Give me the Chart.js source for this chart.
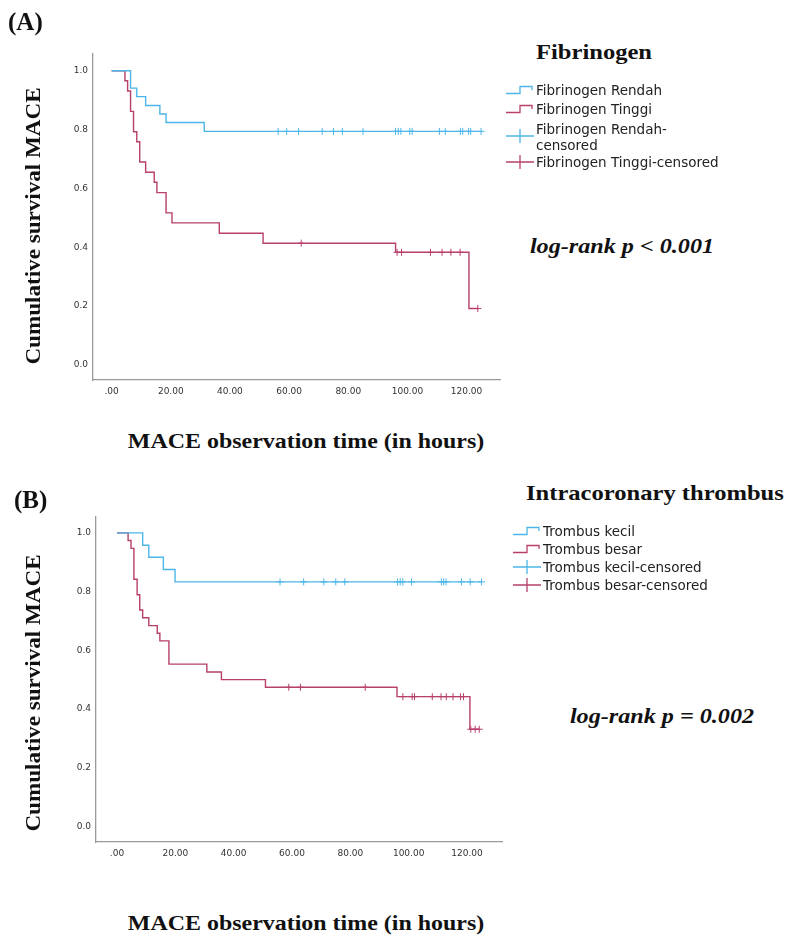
<!DOCTYPE html>
<html>
<head>
<meta charset="utf-8">
<script src="https://cdn.jsdelivr.net/npm/chart.js@4"></script>
<style>
  body { margin: 0; background: #fff; }
  #page { position: relative; width: 786px; height: 938px; overflow: hidden; background: #fff; }
  canvas { position: absolute; }
  .t { position: absolute; white-space: nowrap; color: #111; }
  .serif { font-family: "Liberation Serif", serif; font-weight: bold; }
  .ytitle { transform: translate(-50%, -50%) rotate(-90deg) scaleX(1.1); }
  .xtitle { transform: translate(-50%, -50%) scaleX(1.14); }
  .pval { transform: translate(-50%, -50%) scaleX(1.15); font-style: italic; }
  .head { transform-origin: 0 0; transform: scaleX(1.17); }
  .leg { position: absolute; font-family: "DejaVu Sans", sans-serif; font-size: 13.5px; color: #222; line-height: 16px; }
  .leg .row { position: absolute; left: 0; white-space: nowrap; }
  .leg svg { position: absolute; }
  .leg span { position: absolute; }
</style>
</head>
<body>
<div id="page">
  <canvas id="chartA" width="520" height="420" style="left:0;top:0;width:520px;height:420px"></canvas>
  <canvas id="chartB" width="520" height="420" style="left:0;top:470px;width:520px;height:420px"></canvas>

  <div class="t serif" style="left:8px;top:8px;font-size:25px">(A)</div>
  <div class="t serif" style="left:14px;top:486px;font-size:25px">(B)</div>

  <div class="t serif ytitle" style="left:33px;top:226px;font-size:21px">Cumulative survival MACE</div>
  <div class="t serif ytitle" style="left:33px;top:693px;font-size:21px">Cumulative survival MACE</div>
  <div class="t serif xtitle" style="left:306px;top:441px;font-size:21px">MACE observation time (in hours)</div>
  <div class="t serif xtitle" style="left:306px;top:923px;font-size:21px">MACE observation time (in hours)</div>

  <div class="t serif head" style="left:536px;top:40px;font-size:21px">Fibrinogen</div>
  <div class="t serif head" style="left:526px;top:481px;font-size:21px">Intracoronary thrombus</div>

  <div class="t serif pval" style="left:622px;top:246px;font-size:21px">log-rank p &lt; 0.001</div>
  <div class="t serif pval" style="left:662px;top:716px;font-size:21px">log-rank p = 0.002</div>

  <div id="legA" class="leg" style="left:506px;top:0"></div>
  <div id="legB" class="leg" style="left:513px;top:0"></div>
</div>
<script>
// Panel A: Fibrinogen
const aTickX = [0, 20, 40, 60, 80, 100, 120];
const aTickY = [0, 0.2, 0.4, 0.6, 0.8, 1.0];
const aLowTime = [6.4, 8.5, 11.5, 16.3, 18.4, 31.3];
const aLowSurv = [0.941, 0.912, 0.882, 0.853, 0.824, 0.794];
const aLowCens = [56.3, 59.2, 63.2, 71.2, 75, 78, 85, 96, 96.9, 97.8, 100.8, 101.6, 110.8, 112.8, 117.9, 118.7, 120.7, 121.4, 124.9];
const aHighTime = [4.5, 5.4, 6.4, 7.4, 8.5, 9.5, 11.5, 14.4, 15.3, 18.4, 20.4, 36.4, 51.2, 96, 120.8];
const aHighSurv = [0.966, 0.931, 0.862, 0.793, 0.759, 0.690, 0.655, 0.621, 0.586, 0.517, 0.483, 0.448, 0.414, 0.383, 0.192];
const aHighCens = [64.1, 96.5, 98, 107.8, 111.7, 114.7, 117.8, 123.8];
const aLabels = ['Fibrinogen Rendah', 'Fibrinogen Tinggi', 'Fibrinogen Rendah-\ncensored', 'Fibrinogen Tinggi-censored'];

// Panel B: Intracoronary thrombus
const bTickX = [0, 20, 40, 60, 80, 100, 120];
const bTickY = [0, 0.2, 0.4, 0.6, 0.8, 1.0];
const bSmallTime = [8.8, 10.9, 15.9, 19.9];
const bSmallSurv = [0.958, 0.917, 0.875, 0.833];
const bSmallCens = [55.9, 64, 70.9, 75, 78.1, 96.2, 97.1, 98, 101, 111.2, 112, 112.8, 118.1, 121.1, 125];
const bLargeTime = [3.8, 4.8, 5.8, 6.9, 7.8, 8.8, 10.9, 13.8, 14.7, 17.8, 30.8, 35.8, 50.9, 96, 121];
const bLargeSurv = [0.974, 0.947, 0.842, 0.789, 0.737, 0.711, 0.684, 0.658, 0.632, 0.553, 0.526, 0.500, 0.474, 0.442, 0.331];
const bLargeCens = [58.9, 62.9, 85.1, 98, 101.2, 102, 108.1, 111.1, 112.9, 115.2, 117.8, 118.8, 121.3, 122.8, 124.2];
const bLabels = ['Trombus kecil', 'Trombus besar', 'Trombus kecil-censored', 'Trombus besar-censored'];

const BLUE = '#4cb6e8';
const RED = '#b73f6c';

function survAt(times, surv, t) {
  let s = 1;
  for (let i = 0; i < times.length; i++) if (times[i] <= t) s = surv[i];
  return s;
}

function stepPoints(times, surv, cens) {
  const pts = [{x: 0, y: 1}];
  times.forEach((t, i) => pts.push({x: t, y: surv[i]}));
  const end = Math.max(...cens);
  pts.push({x: end, y: survAt(times, surv, end)});
  return pts;
}

function censPoints(times, surv, cens) {
  return cens.map(t => ({x: t, y: survAt(times, surv, t)}));
}

function drawKM(id, g) {
  const ctx = document.getElementById(id).getContext('2d');
  new Chart(ctx, {
    type: 'line',
    data: {
      datasets: [
        { data: stepPoints(g.t1, g.s1, g.c1), borderColor: BLUE, borderWidth: 1.4, stepped: 'before', pointRadius: 0, fill: false },
        { data: stepPoints(g.t2, g.s2, g.c2), borderColor: RED, borderWidth: 1.4, stepped: 'before', pointRadius: 0, fill: false },
        { type: 'scatter', data: censPoints(g.t1, g.s1, g.c1), borderColor: BLUE, pointStyle: 'cross', pointRadius: 3.5, borderWidth: 1, showLine: false },
        { type: 'scatter', data: censPoints(g.t2, g.s2, g.c2), borderColor: RED, pointStyle: 'cross', pointRadius: 3.5, borderWidth: 1, showLine: false }
      ]
    },
    options: {
      responsive: false,
      animation: false,
      layout: { padding: { left: 0, top: g.top, right: g.right, bottom: 0 } },
      plugins: { legend: { display: false }, tooltip: { enabled: false } },
      scales: {
        x: {
          type: 'linear', min: g.xmin, max: g.xmax,
          afterBuildTicks: s => { s.ticks = g.tx.map(v => ({value: v})); },
          afterFit: s => { s.height = g.xh; },
          grid: { display: false, drawTicks: false },
          border: { display: true, color: '#9a9a9a', width: 1.3 },
          ticks: { color: '#333', font: { family: 'DejaVu Sans', size: 9 }, padding: 6, maxRotation: 0,
                   callback: v => v === 0 ? '.00' : v.toFixed(2) }
        },
        y: {
          type: 'linear', min: g.ymin, max: g.ymax,
          afterBuildTicks: s => { s.ticks = g.ty.map(v => ({value: v})); },
          afterFit: s => { s.width = g.yw; },
          grid: { display: false, drawTicks: false },
          border: { display: true, color: '#9a9a9a', width: 1.3 },
          ticks: { color: '#333', font: { family: 'DejaVu Sans', size: 9 }, padding: 5,
                   callback: v => v.toFixed(1) }
        }
      }
    }
  });
}

drawKM('chartA', { t1: aLowTime, s1: aLowSurv, c1: aLowCens, t2: aHighTime, s2: aHighSurv, c2: aHighCens,
  tx: aTickX, ty: aTickY, xmin: -6.3, xmax: 131.3, ymin: -0.051, ymax: 1.057, top: 54, right: 20, yw: 93, xh: 40 });
drawKM('chartB', { t1: bSmallTime, s1: bSmallSurv, c1: bSmallCens, t2: bLargeTime, s2: bLargeSurv, c2: bLargeCens,
  tx: bTickX, ty: bTickY, xmin: -7.2, xmax: 132, ymin: -0.053, ymax: 1.054, top: 47, right: 18, yw: 96, xh: 48 });

// legends
function stepIcon(color) {
  return '<svg width="28" height="12" viewBox="0 0 28 12"><path d="M0 9.5H14V2.5H26V6" fill="none" stroke="' + color + '" stroke-width="1.3"/></svg>';
}
function crossIcon(color) {
  return '<svg width="28" height="16" viewBox="0 0 28 16"><path d="M0 8H28M14 1V15" fill="none" stroke="' + color + '" stroke-width="1.3"/></svg>';
}
function buildLegend(id, labels, rows, textX) {
  const el = document.getElementById(id);
  const colors = [BLUE, RED, BLUE, RED];
  labels.forEach((lab, i) => {
    const r = rows[i];
    const icon = i < 2 ? stepIcon(colors[i]) : crossIcon(colors[i]);
    const iy = i < 2 ? r.iy - 6 : r.iy - 8;
    const lines = lab.split('\n').join('<br>');
    el.insertAdjacentHTML('beforeend',
      '<div class="row" style="top:0"><svg style="left:0;top:' + iy + 'px" ' + icon.slice(5) +
      '<span style="left:' + textX + 'px;top:' + r.ty + 'px;line-height:' + r.lh + 'px">' + lines + '</span></div>');
  });
}
buildLegend('legA', aLabels, [
  { iy: 90, ty: 82, lh: 16 },
  { iy: 109, ty: 101, lh: 16 },
  { iy: 136, ty: 121, lh: 16 },
  { iy: 162, ty: 154, lh: 16 }
], 30);
buildLegend('legB', bLabels, [
  { iy: 531, ty: 523, lh: 16 },
  { iy: 549, ty: 541, lh: 16 },
  { iy: 567, ty: 559, lh: 16 },
  { iy: 585, ty: 577, lh: 16 }
], 30);
</script>
</body>
</html>
